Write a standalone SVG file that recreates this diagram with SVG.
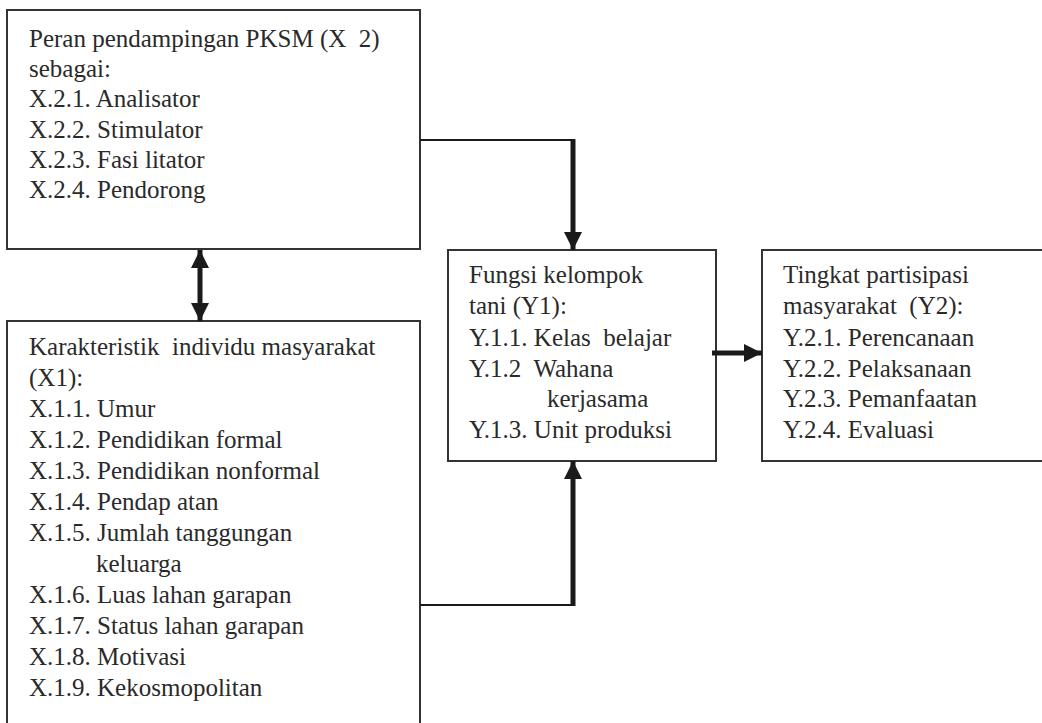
<svg xmlns="http://www.w3.org/2000/svg" width="1042" height="723" viewBox="0 0 1042 723">
<defs>
  <marker id="ah" viewBox="0 0 18 18" markerWidth="18" markerHeight="18" markerUnits="userSpaceOnUse" refX="18" refY="9" orient="auto-start-reverse">
    <path d="M0,0 L18,9 L0,18 z" fill="#1a1a1a"/>
  </marker>
</defs>
<rect x="0" y="0" width="1042" height="723" fill="#ffffff"/>

<g id="node-x2">
  <rect x="7" y="10" width="413" height="239" fill="#ffffff" stroke="#333333" stroke-width="2"/>
  <text x="29" y="47" font-family="Liberation Serif" font-size="25" fill="#2a2a2a">Peran pendampingan PKSM (X&#160; 2)</text>
  <text x="29" y="77" font-family="Liberation Serif" font-size="25" fill="#2a2a2a">sebagai:</text>
  <text x="29" y="107" font-family="Liberation Serif" font-size="25" fill="#2a2a2a">X.2.1. Analisator</text>
  <text x="29" y="138" font-family="Liberation Serif" font-size="25" fill="#2a2a2a">X.2.2. Stimulator</text>
  <text x="29" y="168" font-family="Liberation Serif" font-size="25" fill="#2a2a2a">X.2.3. Fasi litator</text>
  <text x="29" y="198" font-family="Liberation Serif" font-size="25" fill="#2a2a2a">X.2.4. Pendorong</text>
</g>

<g id="node-x1">
  <rect x="7" y="321" width="413" height="430" fill="#ffffff" stroke="#333333" stroke-width="2"/>
  <text x="29" y="355" font-family="Liberation Serif" font-size="25" fill="#2a2a2a">Karakteristik&#160; individu masyarakat</text>
  <text x="29" y="386" font-family="Liberation Serif" font-size="25" fill="#2a2a2a">(X1):</text>
  <text x="29" y="417" font-family="Liberation Serif" font-size="25" fill="#2a2a2a">X.1.1. Umur</text>
  <text x="29" y="448" font-family="Liberation Serif" font-size="25" fill="#2a2a2a">X.1.2. Pendidikan formal</text>
  <text x="29" y="479" font-family="Liberation Serif" font-size="25" fill="#2a2a2a">X.1.3. Pendidikan nonformal</text>
  <text x="29" y="510" font-family="Liberation Serif" font-size="25" fill="#2a2a2a">X.1.4. Pendap atan</text>
  <text x="29" y="541" font-family="Liberation Serif" font-size="25" fill="#2a2a2a">X.1.5. Jumlah tanggungan</text>
  <text x="96" y="572" font-family="Liberation Serif" font-size="25" fill="#2a2a2a">keluarga</text>
  <text x="29" y="603" font-family="Liberation Serif" font-size="25" fill="#2a2a2a">X.1.6. Luas lahan garapan</text>
  <text x="29" y="634" font-family="Liberation Serif" font-size="25" fill="#2a2a2a">X.1.7. Status lahan garapan</text>
  <text x="29" y="665" font-family="Liberation Serif" font-size="25" fill="#2a2a2a">X.1.8. Motivasi</text>
  <text x="29" y="696" font-family="Liberation Serif" font-size="25" fill="#2a2a2a">X.1.9. Kekosmopolitan</text>
</g>

<g id="node-y1">
  <rect x="448" y="250" width="268" height="211" fill="#ffffff" stroke="#333333" stroke-width="2"/>
  <text x="469" y="283" font-family="Liberation Serif" font-size="25" fill="#2a2a2a">Fungsi kelompok</text>
  <text x="469" y="314" font-family="Liberation Serif" font-size="25" fill="#2a2a2a">tani (Y1):</text>
  <text x="469" y="346" font-family="Liberation Serif" font-size="25" fill="#2a2a2a">Y.1.1. Kelas&#160; belajar</text>
  <text x="469" y="377" font-family="Liberation Serif" font-size="25" fill="#2a2a2a">Y.1.2&#160; Wahana</text>
  <text x="547" y="407" font-family="Liberation Serif" font-size="25" fill="#2a2a2a">kerjasama</text>
  <text x="469" y="438" font-family="Liberation Serif" font-size="25" fill="#2a2a2a">Y.1.3. Unit produksi</text>
</g>

<g id="node-y2">
  <rect x="762" y="250" width="300" height="211" fill="#ffffff" stroke="#333333" stroke-width="2"/>
  <text x="783" y="283" font-family="Liberation Serif" font-size="25" fill="#2a2a2a">Tingkat partisipasi</text>
  <text x="783" y="314" font-family="Liberation Serif" font-size="25" fill="#2a2a2a">masyarakat&#160; (Y2):</text>
  <text x="783" y="346" font-family="Liberation Serif" font-size="25" fill="#2a2a2a">Y.2.1. Perencanaan</text>
  <text x="783" y="377" font-family="Liberation Serif" font-size="25" fill="#2a2a2a">Y.2.2. Pelaksanaan</text>
  <text x="783" y="407" font-family="Liberation Serif" font-size="25" fill="#2a2a2a">Y.2.3. Pemanfaatan</text>
  <text x="783" y="438" font-family="Liberation Serif" font-size="25" fill="#2a2a2a">Y.2.4. Evaluasi</text>
</g>

<g id="connectors" fill="none" stroke="#1a1a1a">
  <path d="M200,250 V321" stroke-width="5" marker-start="url(#ah)" marker-end="url(#ah)"/>
  <path d="M420,140 H574" stroke-width="2"/>
  <path d="M573,139 V250" stroke-width="5" marker-end="url(#ah)"/>
  <path d="M712,353 H762" stroke-width="5" marker-end="url(#ah)"/>
  <path d="M420,605 H574" stroke-width="2"/>
  <path d="M573,606 V461" stroke-width="5" marker-end="url(#ah)"/>
</g>
</svg>
